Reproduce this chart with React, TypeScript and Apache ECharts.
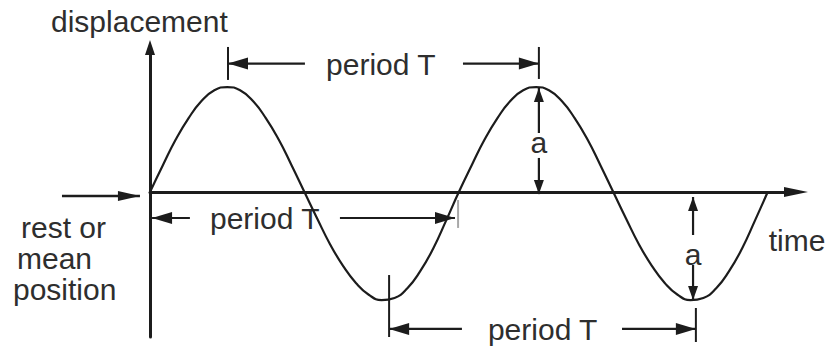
import React, { useEffect, useRef } from "react";
import * as echarts from "echarts";

// ---- data (time in 24ths of a period T, displacement in units of amplitude a) ----
const timeSteps = [
  0, 1, 2, 3, 4, 5, 6, 7, 8, 9, 10, 11, 12, 13, 14, 15, 16, 17, 18, 19, 20, 21, 22, 23,
  24, 25, 26, 27, 28, 29, 30, 31, 32, 33, 34, 35, 36, 37, 38, 39, 40, 41, 42, 43, 44, 45, 46, 47, 48,
];
const displacementValues = [
  0, 0.25, 0.49, 0.69, 0.85, 0.95, 0.98, 0.95, 0.85, 0.69, 0.49, 0.25,
  0, -0.25, -0.49, -0.69, -0.85, -0.96, -1.01, -0.99, -0.9, -0.74, -0.53, -0.27,
  0, 0.25, 0.49, 0.69, 0.85, 0.95, 0.98, 0.95, 0.85, 0.69, 0.49, 0.25,
  0, -0.25, -0.49, -0.69, -0.85, -0.96, -1.01, -0.99, -0.9, -0.74, -0.53, -0.27, 0,
];

const timeRange = [0, 50.2];
const displacementRange = [-1.355, 1.35];

const axisTitles = ["displacement", "time"];
const restLabelLines = ["rest or", "mean", "position"];

// "period T" dimension arrows (peak→peak, zero→zero, trough→trough)
const periodLabel = "period T";
const periodStart = [6.06, 0.16, 18.58];
const periodEnd = [30.22, 23.7, 42.42];
const periodLevel = [1.2, -0.243, -1.28];
const periodGapStart = [12.04, 3.1, 24.24];
const periodGapEnd = [24.32, 14.76, 36.68];
const periodLabelStart = [13.68, 4.66, 26.26];

// end ticks of the period arrows
const tickTime = [6.06, 30.22, 23.94, 18.58, 42.42];
const tickHigh = [1.355, 1.355, -0.075, -0.776, -1.084];
const tickLow = [1.047, 1.056, -0.336, -1.355, -1.402];
const tickFaint = [false, false, true, false, false];

// amplitude "a" arrows
const amplitudeLabel = "a";
const amplitudeTime = [30.22, 42.2];
const amplitudeBase = [-0.02, -0.047];
const amplitudeTip = [0.972, -1.01];
const amplitudeGapNear = [0.318, -0.402];
const amplitudeGapFar = [0.551, -0.682];
const amplitudeLabelAt = [0.458, -0.584];

// "rest or mean position" pointer
const restArrowTime = [-6.84, -0.78];
const restArrowLevel = -0.037;

// ---- styles ----
const INK = "#1c1c1c";
const TEXT = "#2e2e2e";
const FONT = "'Liberation Sans', Arial, Helvetica, sans-serif";
const FONT_SIZE = 30;

type P = number[];

function seg(a: P, b: P, w = 2.2, color = INK) {
  return {
    type: "line",
    silent: true,
    shape: { x1: a[0], y1: a[1], x2: b[0], y2: b[1] },
    style: { stroke: color, lineWidth: w },
  };
}

function head(tip: P, from: P, len: number, half: number) {
  const dx = tip[0] - from[0];
  const dy = tip[1] - from[1];
  const d = Math.hypot(dx, dy) || 1;
  const ux = dx / d;
  const uy = dy / d;
  const bx = tip[0] - ux * len;
  const by = tip[1] - uy * len;
  const nx = -uy;
  const ny = ux;
  return {
    type: "polygon",
    silent: true,
    shape: {
      points: [
        [tip[0], tip[1]],
        [bx + nx * half, by + ny * half],
        [bx - nx * half, by - ny * half],
      ],
    },
    style: { fill: INK },
  };
}

function label(text: string, x: number, y: number, align = "left") {
  return {
    type: "text",
    silent: true,
    x,
    y,
    style: {
      text,
      fill: TEXT,
      fontSize: FONT_SIZE,
      fontFamily: FONT,
      align,
      verticalAlign: "middle",
      textAlign: align,
      textVerticalAlign: "middle",
    },
  };
}

export default function App() {
  const ref = useRef<HTMLDivElement>(null);

  useEffect(() => {
    document.body.style.margin = "0";
    const chart = echarts.init(ref.current as HTMLDivElement, null, { renderer: "svg" });

    chart.setOption({
      animation: false,
      backgroundColor: "#ffffff",
      grid: { left: 150, right: 34, top: 47.5, bottom: 12 },
      xAxis: {
        type: "value",
        min: timeRange[0],
        max: timeRange[1],
        axisLine: {
          show: true,
          onZero: true,
          symbol: ["none", "triangle"],
          symbolSize: [10, 24],
          lineStyle: { color: INK, width: 3 },
        },
        axisTick: { show: false },
        axisLabel: { show: false },
        splitLine: { show: false },
      },
      yAxis: {
        type: "value",
        min: displacementRange[0],
        max: displacementRange[1],
        axisLine: {
          show: true,
          onZero: true,
          symbol: ["none", "triangle"],
          symbolSize: [10, 15],
          lineStyle: { color: INK, width: 3 },
        },
        axisTick: { show: false },
        axisLabel: { show: false },
        splitLine: { show: false },
      },
      series: [
        {
          type: "line",
          silent: true,
          smooth: true,
          showSymbol: false,
          data: timeSteps.map((t, i) => [t, displacementValues[i]]),
          lineStyle: { color: INK, width: 2.2 },
        },
      ],
    });

    const px = (x: number, y: number) =>
      chart.convertToPixel({ gridIndex: 0 }, [x, y]) as number[];

    const els: any[] = [];

    // period arrows
    periodStart.forEach((s, i) => {
      const lv = periodLevel[i];
      const L = px(s, lv);
      const R = px(periodEnd[i], lv);
      const G1 = px(periodGapStart[i], lv);
      const G2 = px(periodGapEnd[i], lv);
      els.push(seg(L, G1), seg(G2, R), head(L, R, 20, 6), head(R, L, 20, 6));
      const T = px(periodLabelStart[i], lv);
      els.push(label(periodLabel, T[0], T[1] + 1));
    });

    // ticks
    tickTime.forEach((t, i) => {
      els.push(seg(px(t, tickHigh[i]), px(t, tickLow[i]), 2, tickFaint[i] ? "#a8a8a8" : INK));
    });

    // amplitude arrows
    amplitudeTime.forEach((t, i) => {
      const B = px(t, amplitudeBase[i]);
      const Tp = px(t, amplitudeTip[i]);
      const gN = px(t, amplitudeGapNear[i]);
      const gF = px(t, amplitudeGapFar[i]);
      els.push(seg(B, gN), seg(gF, Tp), head(B, Tp, 14, 5), head(Tp, B, 14, 5));
      const A = px(t, amplitudeLabelAt[i]);
      els.push(label(amplitudeLabel, A[0], A[1], "center"));
    });

    // rest / mean position pointer
    const rs = px(restArrowTime[0], restArrowLevel);
    const re = px(restArrowTime[1], restArrowLevel);
    els.push(seg(rs, re, 2.5), head(re, rs, 22, 5));

    // axis titles and side label
    const top = px(0, displacementRange[1]);
    els.push(label(axisTitles[0], 51, top[1] - 26));
    const xEnd = px(48, 0);
    els.push(label(axisTitles[1], xEnd[0] + 1, xEnd[1] + 49));
    const restY = [227, 258, 289];
    const restX = [21, 17, 13];
    restLabelLines.forEach((t, i) => els.push(label(t, restX[i], restY[i])));

    chart.setOption({ graphic: { elements: els } });

    return () => chart.dispose();
  }, []);

  return <div ref={ref} style={{ width: 830, height: 349 }} />;
}
